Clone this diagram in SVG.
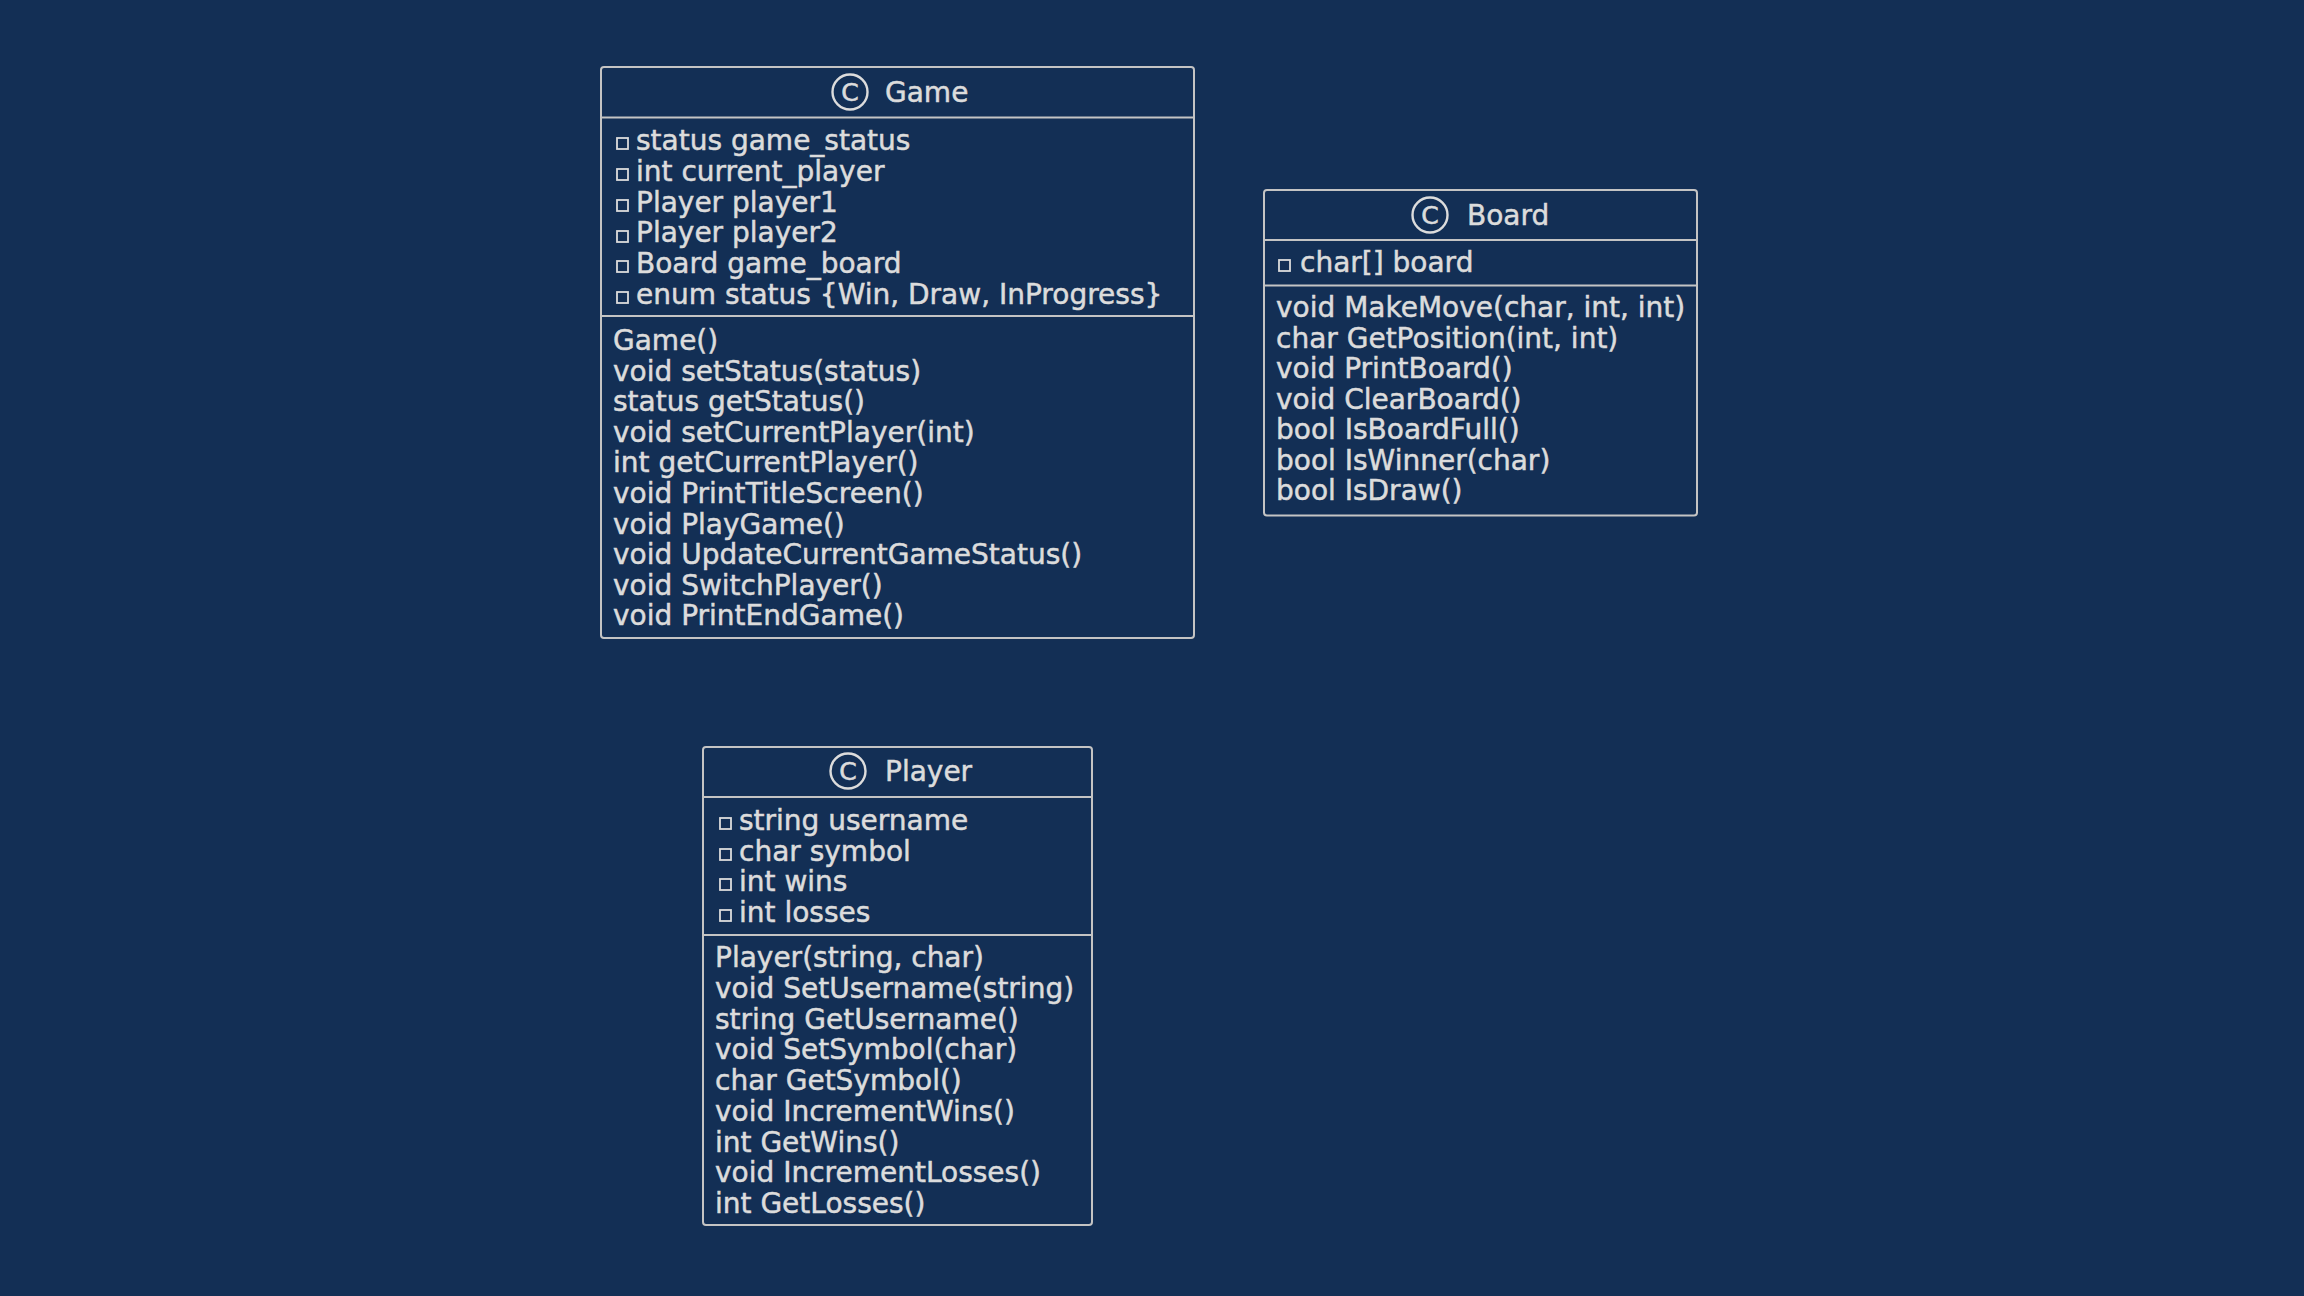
<svg xmlns="http://www.w3.org/2000/svg" width="2304" height="1296" viewBox="0 0 2304 1296">
<style>
.box{fill:#132f55;stroke:#c4c4c4;stroke-width:2}
.sep{stroke:#c4c4c4;stroke-width:2}
.t{font-family:"DejaVu Sans",Verdana,sans-serif;font-size:28px;fill:#dcdcdc;stroke:#dcdcdc;stroke-width:0.5}
.h{font-family:"DejaVu Sans",Verdana,sans-serif;font-size:28px;fill:#dcdcdc;stroke:#dcdcdc;stroke-width:0.5}
.ci{fill:none;stroke:#dcdcdc;stroke-width:2.4}
.ct{font-family:"DejaVu Sans",Verdana,sans-serif;font-size:25px;fill:#dcdcdc;stroke:#dcdcdc;stroke-width:0.6;text-anchor:middle}
.sq{fill:none;stroke:#dcdcdc;stroke-width:1.8}
</style>
<rect x="0" y="0" width="2304" height="1296" fill="#132f55"/>
<g id="connectors"></g>
<g id="game">
<rect class="box" x="601" y="67" width="593" height="571" rx="3"/>
<line class="sep" x1="601" y1="117.5" x2="1194" y2="117.5"/>
<line class="sep" x1="601" y1="316" x2="1194" y2="316"/>
<circle class="ci" cx="850" cy="92" r="17.5"/>
<text class="ct" x="850" y="101">C</text>
<text class="h" x="885" y="102">Game</text>
<rect class="sq" x="617" y="138" width="11" height="11"/>
<rect class="sq" x="617" y="169" width="11" height="11"/>
<rect class="sq" x="617" y="200" width="11" height="11"/>
<rect class="sq" x="617" y="231" width="11" height="11"/>
<rect class="sq" x="617" y="261" width="11" height="11"/>
<rect class="sq" x="617" y="292" width="11" height="11"/>
<text class="t" x="636" y="150">status game_status</text>
<text class="t" x="636" y="180.8">int current_player</text>
<text class="t" x="636" y="211.6">Player player1</text>
<text class="t" x="636" y="242.4">Player player2</text>
<text class="t" x="636" y="273.2">Board game_board</text>
<text class="t" x="636" y="304">enum status {Win, Draw, InProgress}</text>
<text class="t" x="613" y="350">Game()</text>
<text class="t" x="613" y="380.6">void setStatus(status)</text>
<text class="t" x="613" y="411.2">status getStatus()</text>
<text class="t" x="613" y="441.8">void setCurrentPlayer(int)</text>
<text class="t" x="613" y="472.4">int getCurrentPlayer()</text>
<text class="t" x="613" y="503">void PrintTitleScreen()</text>
<text class="t" x="613" y="533.6">void PlayGame()</text>
<text class="t" x="613" y="564.2">void UpdateCurrentGameStatus()</text>
<text class="t" x="613" y="594.8">void SwitchPlayer()</text>
<text class="t" x="613" y="625.4">void PrintEndGame()</text>
</g>
<g id="board">
<rect class="box" x="1264" y="190" width="433" height="325.6" rx="3"/>
<line class="sep" x1="1264" y1="240" x2="1697" y2="240"/>
<line class="sep" x1="1264" y1="285.5" x2="1697" y2="285.5"/>
<circle class="ci" cx="1430" cy="215" r="17.5"/>
<text class="ct" x="1430" y="224">C</text>
<text class="h" x="1467" y="225">Board</text>
<rect class="sq" x="1279" y="260" width="11" height="11"/>
<text class="t" x="1300" y="272">char[] board</text>
<text class="t" x="1276" y="317">void MakeMove(char, int, int)</text>
<text class="t" x="1276" y="347.5">char GetPosition(int, int)</text>
<text class="t" x="1276" y="378">void PrintBoard()</text>
<text class="t" x="1276" y="408.5">void ClearBoard()</text>
<text class="t" x="1276" y="439">bool IsBoardFull()</text>
<text class="t" x="1276" y="469.5">bool IsWinner(char)</text>
<text class="t" x="1276" y="500">bool IsDraw()</text>
</g>
<g id="player">
<rect class="box" x="703" y="747" width="389" height="478" rx="3"/>
<line class="sep" x1="703" y1="797" x2="1092" y2="797"/>
<line class="sep" x1="703" y1="935" x2="1092" y2="935"/>
<circle class="ci" cx="848" cy="771" r="17.5"/>
<text class="ct" x="848" y="780">C</text>
<text class="h" x="885" y="781">Player</text>
<rect class="sq" x="720" y="818" width="11" height="11"/>
<rect class="sq" x="720" y="849" width="11" height="11"/>
<rect class="sq" x="720" y="879" width="11" height="11"/>
<rect class="sq" x="720" y="910" width="11" height="11"/>
<text class="t" x="739" y="830">string username</text>
<text class="t" x="739" y="860.7">char symbol</text>
<text class="t" x="739" y="891.4">int wins</text>
<text class="t" x="739" y="922">int losses</text>
<text class="t" x="715" y="967">Player(string, char)</text>
<text class="t" x="715" y="997.8">void SetUsername(string)</text>
<text class="t" x="715" y="1028.5">string GetUsername()</text>
<text class="t" x="715" y="1059.3">void SetSymbol(char)</text>
<text class="t" x="715" y="1090">char GetSymbol()</text>
<text class="t" x="715" y="1120.8">void IncrementWins()</text>
<text class="t" x="715" y="1151.5">int GetWins()</text>
<text class="t" x="715" y="1182.3">void IncrementLosses()</text>
<text class="t" x="715" y="1213">int GetLosses()</text>
</g>
</svg>
